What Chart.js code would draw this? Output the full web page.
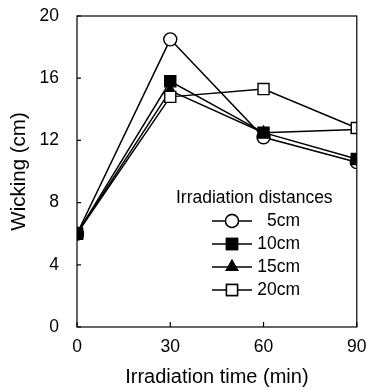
<!DOCTYPE html>
<html>
<head>
<meta charset="utf-8">
<script src="https://cdn.jsdelivr.net/npm/chart.js@4.4.0/dist/chart.umd.min.js"></script>
<style>
  html, body { margin:0; padding:0; background:#fff; }
  #wrap { width:366px; height:390px; }
</style>
</head>
<body>
<div id="wrap"><canvas id="wick"></canvas></div>
<script>
// data
const times = [0, 30, 60, 90];
const seriesNames = ['5cm', '10cm', '15cm', '20cm'];
const wick5 = [6.0, 18.5, 12.2, 10.6];
const wick10 = [6.0, 15.8, 12.5, 10.8];
const wick15 = [6.0, 15.2, 12.5, 12.7];
const wick20 = [6.0, 14.8, 15.3, 12.8];
const yTicks = [0, 4, 8, 12, 16, 20];

const styles = [
  { pointStyle:'circle', fill:'#fff', r:6.5 },
  { pointStyle:'rect', fill:'#000', r:7.8 },
  { pointStyle:'triangle', fill:'#000', r:6.5 },
  { pointStyle:'rect', fill:'#fff', r:7.8 }
];
const values = [wick5, wick10, wick15, wick20];
const drawOrder = [2, 0, 3, 1]; // lower = on top

const datasets = values.map((v, i) => ({
  label: seriesNames[i],
  data: v.map((y, k) => ({ x: times[k], y: y })),
  borderColor: '#000',
  borderWidth: 1.5,
  pointStyle: styles[i].pointStyle,
  pointRadius: styles[i].r,
  pointBackgroundColor: styles[i].fill,
  pointBorderColor: '#000',
  pointBorderWidth: 1.4,
  tension: 0,
  order: drawOrder[i]
}));

// frame, inward ticks and the legend box inside the plot
const frameAndLegend = {
  id: 'frameAndLegend',
  afterDatasetsDraw(chart) {
    const ctx = chart.ctx;
    const a = chart.chartArea;
    const xs = chart.scales.x, ys = chart.scales.y;
    ctx.save();
    ctx.strokeStyle = '#000';
    ctx.lineWidth = 1.2;
    ctx.strokeRect(a.left, a.top, a.right - a.left, a.bottom - a.top);
    ctx.beginPath();
    yTicks.forEach(t => {
      const y = ys.getPixelForValue(t);
      ctx.moveTo(a.left, y); ctx.lineTo(a.left + 4, y);
    });
    times.forEach(t => {
      const x = xs.getPixelForValue(t);
      ctx.moveTo(x, a.bottom); ctx.lineTo(x, a.bottom - 5);
    });
    ctx.stroke();

    // legend
    ctx.fillStyle = '#000';
    ctx.font = '17.5px "Liberation Sans", Arial, sans-serif';
    ctx.textBaseline = 'middle';
    ctx.textAlign = 'left';
    ctx.fillText('Irradiation distances', 176, 198);
    const rows = [221, 244, 267, 290];
    seriesNames.forEach((name, i) => {
      const y = rows[i];
      ctx.beginPath();
      ctx.lineWidth = 1.5;
      ctx.moveTo(212, y); ctx.lineTo(252, y);
      ctx.stroke();
      ctx.fillStyle = styles[i].fill;
      ctx.lineWidth = 1.4;
      Chart.helpers.drawPoint(ctx, {
        pointStyle: styles[i].pointStyle,
        radius: styles[i].r,
        rotation: 0,
        borderWidth: 1.4
      }, 232, y);
      ctx.fill();
      ctx.stroke();
      ctx.fillStyle = '#000';
      ctx.textAlign = 'right';
      ctx.fillText(name, 300, y);
    });
    ctx.restore();
  }
};

const fam = '"Liberation Sans", Arial, sans-serif';

new Chart(document.getElementById('wick').getContext('2d'), {
  type: 'line',
  data: { datasets },
  plugins: [frameAndLegend],
  options: {
    responsive: true,
    maintainAspectRatio: false,
    animation: false,
    layout: { padding: { top: 16, right: 8, left: 0, bottom: 0 } },
    plugins: { legend: { display: false }, tooltip: { enabled: false } },
    scales: {
      x: {
        type: 'linear',
        min: 0, max: 90,
        afterBuildTicks(s) { s.ticks = times.map(v => ({ value: v })); },
        afterFit(s) { s.height = 63; s.paddingLeft = 0; s.paddingRight = 0; },
        grid: { display: false, drawTicks: false },
        border: { display: false },
        ticks: { color: '#000', padding: 10, font: { size: 17.5, family: fam } },
        title: {
          display: true, text: 'Irradiation time (min)', color: '#000',
          font: { size: 20, family: fam },
          padding: { top: 6, bottom: 1 }
        }
      },
      y: {
        min: 0, max: 20,
        afterBuildTicks(s) { s.ticks = yTicks.map(v => ({ value: v })); },
        afterFit(s) { s.width = 77; s.paddingTop = 0; s.paddingBottom = 0; },
        grid: { display: false, drawTicks: false },
        border: { display: false },
        ticks: { color: '#000', padding: 18, font: { size: 17.5, family: fam } },
        title: {
          display: true, text: 'Wicking (cm)', color: '#000',
          font: { size: 20.5, family: fam },
          padding: { top: 7, bottom: 0 }
        }
      }
    }
  }
});
</script>
</body>
</html>
